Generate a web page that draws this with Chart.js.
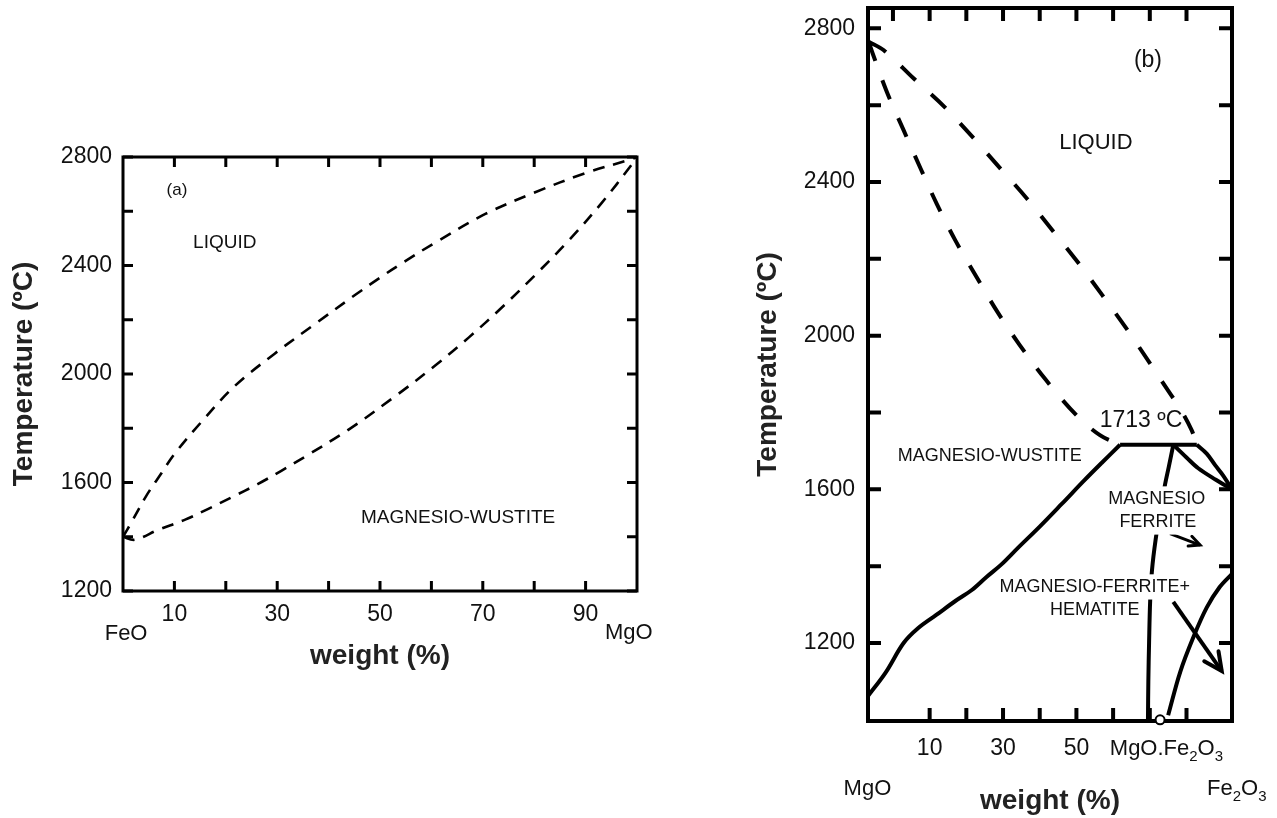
<!DOCTYPE html>
<html>
<head>
<meta charset="utf-8">
<script src="https://cdn.jsdelivr.net/npm/chart.js@4.4.1/dist/chart.umd.min.js"></script>
<style>
  html, body { margin: 0; padding: 0; background: #fff; }
  #wrap { position: relative; width: 1277px; height: 818px; overflow: hidden; }
  #chartA { position: absolute; left: 0; top: 0; width: 690px; height: 818px; }
  #chartB { position: absolute; left: 690px; top: -30px; width: 587px; height: 848px; }
</style>
</head>
<body>
<div id="wrap">
  <canvas id="chartA" width="690" height="818"></canvas>
  <canvas id="chartB" width="587" height="848"></canvas>
</div>
<script>
// ---- (a) FeO - MgO ----
const aTempTicks = [1200, 1400, 1600, 1800, 2000, 2200, 2400, 2600, 2800];
const aTempLabels = ['1200', '', '1600', '', '2000', '', '2400', '', '2800'];
const aWtTicks = [10, 20, 30, 40, 50, 60, 70, 80, 90];
const aWtLabels = ['10', '', '30', '', '50', '', '70', '', '90'];

// liquidus (upper dashed)
const aLiqX = [0, 1.7, 4.5, 7.5, 10, 15.1, 21.7, 29.5, 37.4, 45.2, 50, 54.4, 60.8, 70.5, 80.2, 89.9, 98.9, 100];
const aLiqT = [1400, 1455, 1550, 1635, 1705, 1820, 1955, 2075, 2185, 2292, 2355, 2410, 2485, 2590, 2670, 2740, 2792, 2800];
// solidus (lower dashed)
const aSolX = [0, 2.3, 6.9, 12.1, 16.6, 21.1, 26.2, 30.8, 35.4, 43.9, 53.1, 60.8, 67.3, 73.7, 80.2, 86.6, 93.1, 98.9, 100];
const aSolT = [1400, 1389, 1426, 1463, 1503, 1545, 1594, 1643, 1695, 1795, 1920, 2032, 2135, 2245, 2365, 2490, 2630, 2770, 2800];

// ---- (b) MgO - Fe2O3 ----
const bTempTicks = [1200, 1400, 1600, 1800, 2000, 2200, 2400, 2600, 2800];
const bTempLabels = ['1200', '', '1600', '', '2000', '', '2400', '', '2800'];
const bWtTicks = [0, 10, 20, 30, 40, 50, 60, 70, 80];
const bWtLabels = ['', '10', '', '30', '', '50', '', '', ''];

const bLiqUpX = [-6.6, -2.5, 5.6, 14.1, 21.8, 29.3, 36.6, 43.5, 50.4, 57.1, 63.9, 70.1, 75.5, 78.2, 81.4, 82.8];
const bLiqUpT = [2765, 2743, 2670, 2595, 2516, 2435, 2356, 2274, 2191, 2105, 2015, 1927, 1850, 1811, 1754, 1716];
const bLiqLoX = [-6.6, -5.5, -1.6, 2.9, 7.5, 12, 17, 22.7, 28.6, 34.6, 41.5, 50, 56.4, 61.9];
const bLiqLoT = [2765, 2734, 2633, 2535, 2436, 2342, 2248, 2154, 2060, 1975, 1887, 1793, 1741, 1716];
const bMwX = [-6.8, -2, 2.9, 6.9, 11.8, 17.1, 21.5, 25.5, 29.5, 34, 40, 46, 52, 57, 61.9];
const bMwT = [1062, 1123, 1200, 1239, 1273, 1310, 1338, 1372, 1404, 1447, 1503, 1562, 1622, 1670, 1716];
const bPlatX = [61.9, 82.8];
const bPlatT = [1716, 1716];
const bLiqEndX = [82.8, 85.5, 87.8, 90, 92.4];
const bLiqEndT = [1716, 1693, 1663, 1636, 1600];
const bMfLiqX = [76.4, 80, 83.2, 88, 92.4];
const bMfLiqT = [1716, 1683, 1655, 1625, 1600];
const bMfLeftX = [76.4, 75.2, 74.1, 72.8, 71.6, 70.6, 70.1, 69.8, 69.6, 69.5];
const bMfLeftT = [1716, 1660, 1610, 1540, 1470, 1390, 1310, 1200, 1100, 1000];
const bHemX = [75, 78.3, 82, 85.5, 89, 92.4];
const bHemT = [1012, 1125, 1218, 1292, 1345, 1380];
const bArrowSmallX = [75.5, 83.7];
const bArrowSmallT = [1485, 1455];
const bArrowBigX = [76.4, 89.6];
const bArrowBigT = [1307, 1127];
const bCircleX = [72.8];
const bCircleT = [1000];

const FONT = "'Liberation Sans', Arial, Helvetica, sans-serif";
const INK = '#111';

function pts(xs, ys) {
  return xs.map((x, i) => ({ x: x, y: ys[i] }));
}

function curve(xs, ys, extra) {
  return Object.assign({
    data: pts(xs, ys),
    showLine: true,
    pointRadius: 0,
    borderColor: '#000',
    borderWidth: 4,
    tension: 0.35,
    fill: false
  }, extra);
}

// draws a text, with _2 style subscripts
function drawNote(ctx, n, px, py) {
  const segs = n.text.split(/_(\d)/).map((s, i) => ({ s: s, sub: i % 2 === 1 })).filter(g => g.s);
  const main = (n.bold ? 'bold ' : '') + n.size + 'px ' + FONT;
  const small = Math.round(n.size * 0.68) + 'px ' + FONT;
  let w = 0;
  segs.forEach(g => { ctx.font = g.sub ? small : main; g.w = ctx.measureText(g.s).width; w += g.w; });
  let x0 = n.align === 'left' ? px : px - w / 2;
  if (n.bg) {
    ctx.fillStyle = '#fff';
    ctx.fillRect(x0 - 3, py - n.size * 0.7, w + 6, n.size * 1.4);
  }
  ctx.fillStyle = INK;
  ctx.textAlign = 'left';
  ctx.textBaseline = 'middle';
  segs.forEach(g => {
    ctx.font = g.sub ? small : main;
    ctx.fillText(g.s, x0, g.sub ? py + n.size * 0.35 : py);
    x0 += g.w;
  });
}

// box round the plot with inward ticks on all four sides
const framePlugin = {
  id: 'frame',
  beforeDatasetsDraw(chart, args, o) {
    const { ctx, chartArea: a, scales: { x, y } } = chart;
    ctx.save();
    ctx.strokeStyle = '#000';
    ctx.lineWidth = o.width;
    ctx.strokeRect(a.left, a.top, a.right - a.left, a.bottom - a.top);
    ctx.beginPath();
    x.ticks.forEach(t => {
      const px = x.getPixelForValue(t.value);
      if (!(o.skipBottom || []).includes(t.value)) {
        ctx.moveTo(px, a.bottom); ctx.lineTo(px, a.bottom - o.len);
      }
      ctx.moveTo(px, a.top); ctx.lineTo(px, a.top + o.len);
    });
    y.ticks.forEach(t => {
      const py = y.getPixelForValue(t.value);
      ctx.moveTo(a.left, py); ctx.lineTo(a.left + o.len, py);
      ctx.moveTo(a.right, py); ctx.lineTo(a.right - o.len, py);
    });
    ctx.stroke();
    ctx.restore();
  }
};

// arrow heads on datasets that ask for one
const arrowPlugin = {
  id: 'arrows',
  afterDatasetsDraw(chart) {
    const ctx = chart.ctx;
    chart.data.datasets.forEach((ds, i) => {
      if (!ds.arrowHead) return;
      const el = chart.getDatasetMeta(i).data;
      const p = el[el.length - 1], q = el[el.length - 2];
      const ang = Math.atan2(p.y - q.y, p.x - q.x);
      const L = ds.arrowHead, sp = 0.45;
      ctx.save();
      ctx.strokeStyle = '#000';
      ctx.lineWidth = ds.borderWidth;
      ctx.lineCap = 'round';
      ctx.beginPath();
      ctx.moveTo(p.x - L * Math.cos(ang - sp), p.y - L * Math.sin(ang - sp));
      ctx.lineTo(p.x, p.y);
      ctx.lineTo(p.x - L * Math.cos(ang + sp), p.y - L * Math.sin(ang + sp));
      ctx.stroke();
      ctx.restore();
    });
  }
};

const notePlugin = {
  id: 'notes',
  afterDatasetsDraw(chart, args, o) {
    const { ctx, chartArea: a, scales: { x, y } } = chart;
    ctx.save();
    o.items.forEach(n => {
      const px = x.getPixelForValue(n.x);
      const py = n.dy !== undefined ? a.bottom + n.dy : y.getPixelForValue(n.y);
      drawNote(ctx, n, px, py);
    });
    ctx.restore();
  }
};

function makeChart(id, cfg) {
  return new Chart(document.getElementById(id), {
    type: 'scatter',
    data: { datasets: cfg.datasets },
    plugins: [framePlugin, arrowPlugin, notePlugin],
    options: {
      responsive: false,
      animation: false,
      events: [],
      layout: { padding: cfg.padding },
      plugins: {
        legend: { display: false },
        tooltip: { enabled: false },
        frame: cfg.frame,
        notes: { items: cfg.notes }
      },
      scales: {
        x: {
          type: 'linear',
          min: cfg.xMin, max: cfg.xMax,
          afterBuildTicks: s => { s.ticks = cfg.xTicks.map(v => ({ value: v })); },
          afterFit: s => { s.height = cfg.xHeight; },
          grid: { display: false, drawTicks: false },
          border: { display: false },
          ticks: {
            autoSkip: false, maxRotation: 0, padding: cfg.xPad, color: INK,
            font: { family: FONT, size: 23 },
            callback: (v, i) => cfg.xLabels[i]
          },
          title: {
            display: true, text: 'weight (%)', color: '#222',
            font: { family: FONT, size: 28, weight: 'bold' },
            padding: { top: 0, bottom: cfg.xTitlePad }
          }
        },
        y: {
          type: 'linear',
          min: cfg.yMin, max: cfg.yMax,
          afterBuildTicks: s => { s.ticks = cfg.yTicks.map(v => ({ value: v })); },
          afterFit: s => { s.width = cfg.yWidth; },
          grid: { display: false, drawTicks: false },
          border: { display: false },
          ticks: {
            autoSkip: false, padding: cfg.yPad, color: INK,
            font: { family: FONT, size: 23 },
            callback: (v, i) => cfg.yLabels[i]
          },
          title: {
            display: true, text: 'Temperature (ºC)', color: '#222',
            font: { family: FONT, size: 28, weight: 'bold' },
            padding: { top: cfg.yTitlePad, bottom: 0 }
          }
        }
      }
    }
  });
}

makeChart('chartA', {
  padding: { top: 157, right: 53, left: 0, bottom: 0 },
  xMin: 0, xMax: 100, yMin: 1200, yMax: 2800,
  xTicks: aWtTicks, xLabels: aWtLabels,
  yTicks: aTempTicks, yLabels: aTempLabels,
  xHeight: 227, yWidth: 123,
  xPad: 10, yPad: 11,
  xTitlePad: 145, yTitlePad: 7,
  frame: { width: 3, len: 10 },
  datasets: [
    curve(aLiqX, aLiqT, { borderWidth: 2.6, borderDash: [12, 9] }),
    curve(aSolX, aSolT, { borderWidth: 2.6, borderDash: [12, 9] })
  ],
  notes: [
    { text: '(a)', x: 10.5, y: 2678, size: 17 },
    { text: 'LIQUID', x: 19.8, y: 2483, size: 19 },
    { text: 'MAGNESIO-WUSTITE', x: 65.2, y: 1469, size: 19 },
    { text: 'FeO', x: 0.6, dy: 43, size: 22 },
    { text: 'MgO', x: 98.4, dy: 42, size: 22 }
  ]
});

makeChart('chartB', {
  padding: { top: 38, right: 45, left: 0, bottom: 0 },
  xMin: -6.8, xMax: 92.4, yMin: 997, yMax: 2853,
  xTicks: bWtTicks, xLabels: bWtLabels,
  yTicks: bTempTicks, yLabels: bTempLabels,
  xHeight: 97, yWidth: 178,
  xPad: 14, yPad: 13,
  xTitlePad: 0, yTitlePad: 61,
  frame: { width: 4, len: 13, skipBottom: [0] },
  datasets: [
    { data: pts(bCircleX, bCircleT), pointRadius: 4.5, pointBackgroundColor: '#fff',
      pointBorderColor: '#000', pointBorderWidth: 2, showLine: false, clip: false },
    curve(bLiqUpX, bLiqUpT, { borderDash: [20, 21] }),
    curve(bLiqLoX, bLiqLoT, { borderDash: [20, 21] }),
    curve(bMwX, bMwT),
    curve(bPlatX, bPlatT, { tension: 0 }),
    curve(bLiqEndX, bLiqEndT),
    curve(bMfLiqX, bMfLiqT),
    curve(bMfLeftX, bMfLeftT),
    curve(bHemX, bHemT),
    curve(bArrowSmallX, bArrowSmallT, { borderWidth: 3, tension: 0, arrowHead: 12 }),
    curve(bArrowBigX, bArrowBigT, { borderWidth: 4, tension: 0, arrowHead: 20 })
  ],
  notes: [
    { text: '(b)', x: 69.5, y: 2717, size: 23 },
    { text: 'LIQUID', x: 55.3, y: 2503, size: 22 },
    { text: '1713 ºC', x: 67.6, y: 1778, size: 23 },
    { text: 'MAGNESIO-WUSTITE', x: 26.4, y: 1686, size: 18 },
    { text: 'MAGNESIO', x: 71.9, y: 1575, size: 18, bg: true },
    { text: 'FERRITE', x: 72.2, y: 1515, size: 18, bg: true },
    { text: 'MAGNESIO-FERRITE+', x: 55, y: 1346, size: 18, bg: true },
    { text: 'HEMATITE', x: 55, y: 1286, size: 18 },
    { text: 'MgO.Fe_2O_3', x: 59.1, dy: 28, size: 22, align: 'left' },
    { text: 'MgO', x: -6.95, dy: 68, size: 22 },
    { text: 'Fe_2O_3', x: 85.6, dy: 68, size: 22, align: 'left' }
  ]
});
</script>
</body>
</html>
